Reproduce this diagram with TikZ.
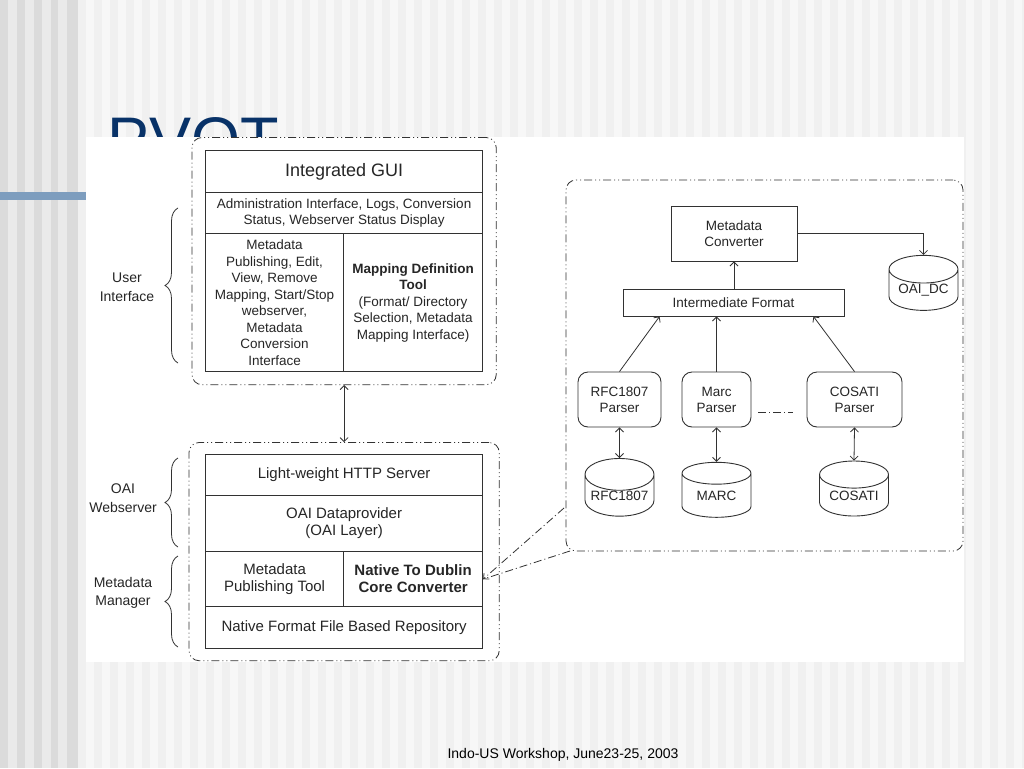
\documentclass[tikz,border=0pt]{standalone}
\usepackage{fontspec}
\setmainfont{Liberation Sans}
\usetikzlibrary{shapes.geometric,fit,arrows.meta,decorations.pathreplacing}

\definecolor{titleblue}{RGB}{8,50,104}
\definecolor{barblue}{RGB}{125,157,190}
\definecolor{stripedark}{RGB}{219,219,219}
\definecolor{stripelight}{RGB}{234,234,234}
\definecolor{stripepale}{RGB}{240,240,240}
\definecolor{stripewhite}{RGB}{247,247,247}
\definecolor{linegray}{RGB}{50,50,50}
\newcommand{\fsz}[2]{\fontsize{#1}{#2}\selectfont}

\begin{document}
\begin{tikzpicture}[%
    x=1pt, y=-1pt,
    >={Straight Barb[length=4pt,width=8pt]},
    cell/.style={%
        draw=linegray,
        line width=1.2pt,
        anchor=north west,
        inner sep=1pt,
        align=center,
        text=black!85,
        font=\fsz{13.5}{16.5},
    },
    bigcell/.style={cell, font=\fsz{15}{17}},
    group/.style={%
        draw=linegray,
        line width=0.8pt,
        rounded corners=10pt,
        dash pattern=on 8pt off 3pt on 1pt off 3pt on 1pt off 3pt,
    },
    block/.style={%
        draw=linegray,
        line width=0.9pt,
        align=center,
        inner sep=1pt,
        text=black!85,
        font=\fsz{13.5}{16},
    },
    parser/.style={block, rounded corners=10pt, minimum height=55pt},
    store/.style={%
        block,
        cylinder,
        shape border rotate=90,
        aspect=0.55,
        inner sep=0pt,
        minimum width=69pt,
        minimum height=55pt,
    },
    link/.style={draw=linegray, line width=0.8pt},
    callout/.style={link, dash pattern=on 8pt off 3pt on 1pt off 3pt},
    sidebrace/.style={%
        draw=linegray,
        line width=0.8pt,
        decorate,
        decoration={brace, amplitude=13pt},
    },
    sidelabel/.style={align=center, text=black!85, font=\fsz{14}{18.5}},
]
\useasboundingbox (0,0) rectangle (1024,768);

% slide background
\fill[stripedark] (0,0) rectangle (78,768);
\foreach \x in {8,25,42,58}
    \fill[stripelight] (\x,0) rectangle ++(9,768);
\fill[stripepale] (78,0) rectangle (1024,768);
\foreach \x in {86,102,...,1020}
    \fill[stripewhite] (\x,0) rectangle ++(8,768);
\fill[barblue] (0,192) rectangle (86,200);
\node[anchor=base west, inner sep=0pt, text=titleblue,
      font=\fsz{63}{63}] (title) at (107,161) {PVOT};

% pasted figure
\fill[white] (86,137) rectangle (964,662);

% user interface layers
\node[cell, minimum width=277pt, minimum height=42pt, font=\fsz{18}{20}] (gui) at (205,150) {Integrated GUI};
\node[cell, minimum width=277pt, minimum height=41pt] (admin) at (205,192)
    {Administration Interface, Logs, Conversion\\Status, Webserver Status Display};
\node[cell, minimum width=138pt, minimum height=138pt] (pub) at (205,233)
    {Metadata\\Publishing, Edit,\\View, Remove\\Mapping, Start/Stop\\webserver,\\Metadata\\Conversion\\Interface};
\node[cell, minimum width=139pt, minimum height=138pt] (mapdef) at (343,233)
    {\textbf{Mapping Definition}\\\textbf{Tool}\\(Format/ Directory\\Selection, Metadata\\Mapping Interface)};

% webserver and manager layers
\node[bigcell, minimum width=277pt, minimum height=41pt] (http) at (205,454) {Light-weight HTTP Server};
\node[bigcell, minimum width=277pt, minimum height=56pt] (dataprov) at (205,495) {OAI Dataprovider\\(OAI Layer)};
\node[bigcell, minimum width=138pt, minimum height=55pt] (pubtool) at (205,551) {Metadata\\Publishing Tool};
\node[bigcell, minimum width=139pt, minimum height=55pt] (nattodc) at (343,551) {\textbf{Native To Dublin}\\\textbf{Core Converter}};
\node[bigcell, minimum width=277pt, minimum height=42pt] (repo) at (205,606) {Native Format File Based Repository};

\node[group, fit=(gui)(pub)(mapdef), inner xsep=13pt, inner ysep=12.5pt] (uigroup) {};
\node[group, fit=(http)(repo), inner xsep=16pt, inner ysep=11.5pt] (srvgroup) {};
\draw[link, <->] (uigroup.south) -- (srvgroup.north);

% braces on the left
\draw[sidebrace] (178,363) -- (178,208);
\draw[sidebrace] (178,547) -- (178,458);
\draw[sidebrace] (178,647) -- (178,556);
\node[sidelabel] (uilabel) at (127,287) {User\\Interface};
\node[sidelabel] (oailabel) at (123,498) {OAI\\Webserver};
\node[sidelabel] (mdlabel) at (123,593) {Metadata\\Manager};

% converter detail
\node[group, fit={(566,180)(963,551)}, inner sep=0pt] (panel) {};
\node[block, minimum width=126pt, minimum height=55pt] (conv) at (734,233.5) {Metadata\\Converter};
\node[block, minimum width=221pt, minimum height=27pt] (interm) at (733.5,302.5) {Intermediate Format};
\node[store] (oaidc) at (923.5,290) {OAI\_DC};

\node[parser, minimum width=83pt] (rfcp) at (619.5,399.5) {RFC1807\\Parser};
\node[parser, minimum width=69pt] (marcp) at (716.5,399.5) {Marc\\Parser};
\node[parser, minimum width=95pt] (cosp) at (854.5,399.5) {COSATI\\Parser};

\node[store] (rfcdb) at (619.5,495.5) {RFC1807};
\node[store] (marcdb) at (716.5,495.5) {MARC};
\node[store] (cosdb) at (854,495.5) {COSATI};

\draw[link, ->] (interm.north -| conv.south) -- (conv.south);
\draw[link, ->] (conv.east) -| (oaidc.north);
\draw[link, ->] (rfcp.north) -- ([xshift=37pt]interm.south west);
\draw[link, ->] (marcp.north) -- (marcp.north |- interm.south);
\draw[link, ->] (cosp.north) -- ([xshift=-31pt]interm.south east);
\draw[link, <->] (rfcp.south) -- (rfcdb.north);
\draw[link, <->] (marcp.south) -- (marcdb.north);
\draw[link, <->] (cosp.south) -- (cosdb.north);
\draw[callout] ([xshift=7pt,yshift=-13pt]marcp.east) -- ([xshift=-14pt,yshift=-13pt]cosp.west);

% zoom lines to the converter cell
\coordinate (zoomtop) at (564,508);
\coordinate (zoombot) at (570,551);
\draw[callout, ->] (zoomtop) -- (nattodc.east);
\draw[callout] (zoombot) -- (nattodc.east);

% footer
\node[text=black, font=\fsz{14}{16}] (footer) at (563,755) {Indo-US Workshop, June23-25, 2003};

\end{tikzpicture}
\end{document}
